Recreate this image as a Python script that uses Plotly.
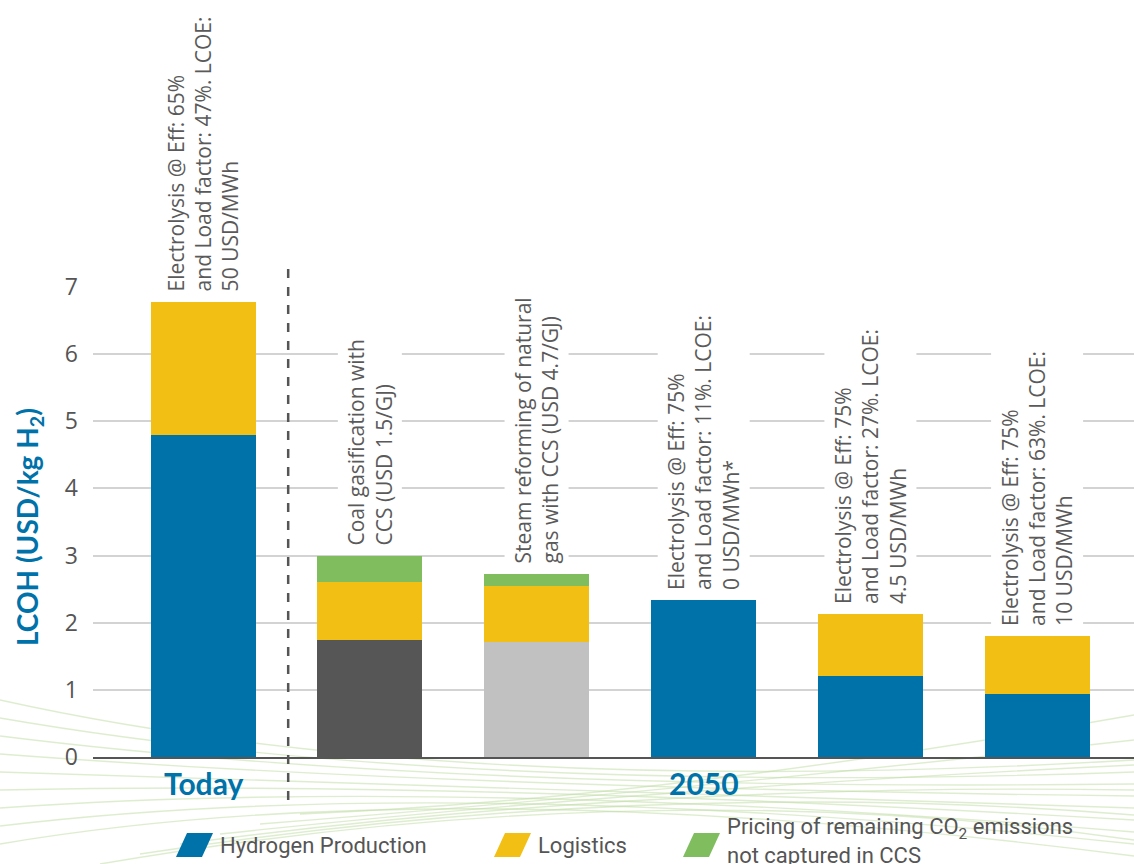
import plotly.graph_objects as go

# ---------------- data ----------------
categories = ["Today", "Coal gasification CCS", "SMR CCS",
              "Electrolysis 0", "Electrolysis 4.5", "Electrolysis 10"]
production = [4.80, 1.75, 1.71, 2.34, 1.21, 0.94]
logistics = [1.98, 0.85, 0.83, 0.00, 0.92, 0.86]
co2_pricing = [0.00, 0.40, 0.19, 0.00, 0.00, 0.00]

bar_notes = [
    "Electrolysis @ Eff: 65%<br>and Load factor: 47%. LCOE:<br>50 USD/MWh",
    "Coal gasification with<br>CCS (USD 1.5/GJ)",
    "Steam reforming of natural<br>gas with CCS (USD 4.7/GJ)",
    "Electrolysis @ Eff: 75%<br>and Load factor: 11%. LCOE:<br>0 USD/MWh*",
    "Electrolysis @ Eff: 75%<br>and Load factor: 27%. LCOE:<br>4.5 USD/MWh",
    "Electrolysis @ Eff: 75%<br>and Load factor: 63%. LCOE:<br>10 USD/MWh",
]
group_labels = ["Today", "2050"]
group_at = [categories[0], categories[3]]

legend_labels = ["Hydrogen Production", "Logistics",
                 "Pricing of remaining CO<sub>2</sub> emissions<br>not captured in CCS"]
y_ticks = [0, 1, 2, 3, 4, 5, 6, 7]

# ---------------- style ----------------
BLUE = "#0072AA"
YELLOW = "#F2BF15"
GREEN = "#7FBD5F"
DARK = "#565656"
LIGHT = "#C1C1C1"
TXT = "#555555"
production_colors = [BLUE, DARK, LIGHT, BLUE, BLUE, BLUE]

W, H = 1134, 864
L, R, T, B = 93, 0, 287, 107


def px(x):
    return (x - L) / (W - L - R)


def py(y):
    return (H - B - y) / (H - T - B)


fig = go.Figure()
fig.add_trace(go.Bar(x=categories, y=production, name=legend_labels[0],
                     marker=dict(color=production_colors, line=dict(width=0)),
                     width=0.63, showlegend=False))
fig.add_trace(go.Bar(x=categories, y=logistics, name=legend_labels[1],
                     marker=dict(color=YELLOW, line=dict(width=0)),
                     width=0.63, showlegend=False))
fig.add_trace(go.Bar(x=categories, y=co2_pricing, name="CO2 pricing",
                     marker=dict(color=GREEN, line=dict(width=0)),
                     width=0.63, showlegend=False))

annotations = []
totals = [p + l + c for p, l, c in zip(production, logistics, co2_pricing)]
for cat, tot, note in zip(categories, totals, bar_notes):
    annotations.append(dict(
        x=cat, y=tot, xref="x", yref="y", text=note, showarrow=False,
        textangle=-90, xanchor="center", yanchor="bottom", align="left",
        yshift=5, bgcolor="white", borderpad=4,
        font=dict(family="Open Sans", size=21, color="#5a5a5a")))

for lab, at in zip(group_labels, group_at):
    annotations.append(dict(
        x=at, y=py(783), xref="x", yref="paper", text="<b>%s</b>" % lab,
        showarrow=False, xanchor="center", yanchor="middle",
        font=dict(family="Lato", size=30, color=BLUE)))

annotations.append(dict(
    x=px(29), y=py(527), xref="paper", yref="paper",
    text="<b>LCOH (USD/kg H<sub>2</sub>)</b>", showarrow=False, textangle=-90,
    xanchor="center", yanchor="middle",
    font=dict(family="Lato", size=28, color=BLUE)))

# legend
leg_colors = [BLUE, YELLOW, GREEN]
leg_x = [176, 494, 683]
leg_text_y = [845, 845, 841]
shapes = []

# faint decorative swooshes
swoosh = "rgba(190,220,160,0.5)"
for i in range(9):
    y0 = 700 + i * 18
    shapes.append(dict(type="path", xref="paper", yref="paper", layer="below",
                       path="M %f,%f Q %f,%f %f,%f" % (
                           px(0), py(y0), px(450), py(800 - i * 4),
                           px(1134), py(760 + i * 12)),
                       line=dict(color=swoosh, width=1.4)))
for i in range(6):
    y0 = 864 - i * 10
    shapes.append(dict(type="path", xref="paper", yref="paper", layer="below",
                       path="M %f,%f Q %f,%f %f,%f" % (
                           px(100 + i * 40), py(y0), px(650), py(770 + i * 6),
                           px(1134), py(840 - i * 25)),
                       line=dict(color=swoosh, width=1.4)))

for col, x0, ty, lab in zip(leg_colors, leg_x, leg_text_y, legend_labels):
    pts = [(x0, 857), (x0 + 26, 857), (x0 + 37, 833), (x0 + 11, 833)]
    path = "M " + " L ".join("%f,%f" % (px(a), py(b)) for a, b in pts) + " Z"
    shapes.append(dict(type="path", xref="paper", yref="paper", path=path,
                       fillcolor=col, line=dict(width=0)))
    annotations.append(dict(
        x=px(x0 + 42), y=py(ty), xref="paper", yref="paper", text=lab,
        showarrow=False, xanchor="left", yanchor="middle", align="left",
        font=dict(family="Liberation Sans Narrow, Roboto, Open Sans", size=22, color=TXT)))

# dashed separator
shapes.append(dict(type="line", xref="x", yref="paper", x0=0.51, x1=0.51,
                   y0=py(800), y1=py(262),
                   line=dict(color="#555555", width=2.5, dash="dash")))

fig.update_layout(
    width=W, height=H, barmode="stack",
    margin=dict(l=L, r=R, t=T, b=B, autoexpand=False),
    paper_bgcolor="white", plot_bgcolor="rgba(0,0,0,0)",
    annotations=annotations, shapes=shapes, showlegend=False,
    xaxis=dict(type="category", range=[-0.66, 5.58], showticklabels=False,
               showgrid=False, showline=True, linecolor="#555555", linewidth=2,
               ticks="", zeroline=False, fixedrange=True),
    yaxis=dict(range=[0, 7], tickvals=y_ticks, showgrid=True,
               gridcolor="#d3d3d3", gridwidth=1.5, zeroline=False,
               ticklabelstandoff=14, ticks="",
               tickfont=dict(family="Open Sans", size=23, color=TXT),
               fixedrange=True),
)

fig.write_html("out.html", config={"displayModeBar": False},
               post_script="document.body.style.margin='0';document.body.style.overflow='hidden';")
